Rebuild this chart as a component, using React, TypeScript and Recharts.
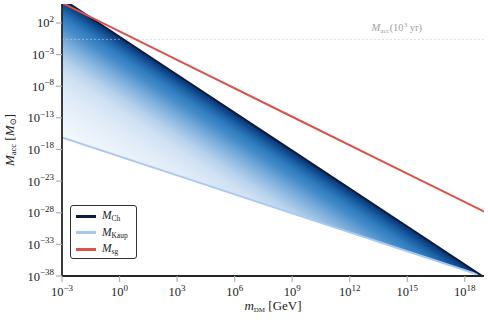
import React from "react";
import {
  ComposedChart,
  Area,
  Line,
  XAxis,
  YAxis,
  ReferenceLine,
  Label,
} from "recharts";

// dark-matter mass [GeV] and the three mass limits [M_sun]
const M_DM = [1e-3, 1e3, 1e9, 1e15, 8.1e18, 1e19];
const M_CH = [6.6e5, 6.6e-7, 6.6e-19, 6.6e-31, 1e-38, null];
const M_KAUP = [8e-17, 8e-23, 8e-29, 8e-35, 1e-38, null];
const M_SG = [1.5e5, 1.5e-4, 1.5e-13, 1.5e-22, 2.1e-28, 1.5e-28];
const M_ACC_1KYR = 0.25;

const X_TICKS = [1e-3, 1e0, 1e3, 1e6, 1e9, 1e12, 1e15, 1e18];
const Y_TICKS = [1e-38, 1e-33, 1e-28, 1e-23, 1e-18, 1e-13, 1e-8, 1e-3, 1e2];
const X_DOMAIN = [1e-3, 1e19];
const Y_DOMAIN = [1e-38, 1e5];

const data = M_DM.map((m, i) => ({
  m,
  ch: M_CH[i],
  kaup: M_KAUP[i],
  sg: M_SG[i],
}));

const W = 488;
const H = 320;
const MARGIN = { top: 4, right: 4, bottom: 4, left: 0 };
const Y_AXIS_W = 62;
const X_AXIS_H = 40;

const FONT = "'Liberation Serif', 'DejaVu Serif', serif";
const C_CH = "#0a1a40";
const C_KAUP = "#a9c8f2";
const C_SG = "#d9534a";

// plot box, used to orient the fill gradient along the Chandrasekhar line
const PL = MARGIN.left + Y_AXIS_W;
const PT = MARGIN.top;
const PW = W - PL - MARGIN.right;
const PH = H - PT - MARGIN.bottom - X_AXIS_H;
const lx = (v: number) => Math.log10(v);
const pxPerDec = PW / (lx(X_DOMAIN[1]) - lx(X_DOMAIN[0]));
const pyPerDec = PH / (lx(Y_DOMAIN[1]) - lx(Y_DOMAIN[0]));
const toPx = (v: number) => PL + (lx(v) - lx(X_DOMAIN[0])) * pxPerDec;
const toPy = (v: number) => PT + (lx(Y_DOMAIN[1]) - lx(v)) * pyPerDec;
const slope = 2 * pyPerDec / pxPerDec;
const g0x = toPx(M_DM[2]);
const g0y = toPy(M_CH[2] as number);
const gLen = (21 * pyPerDec) / (1 + slope * slope);
const g1x = g0x - slope * gLen;
const g1y = g0y + gLen;

const exp = (v: number) => {
  const e = Math.round(Math.log10(v));
  return e < 0 ? "\u2212" + Math.abs(e) : String(e);
};

function XTick({ x, y, payload }: any) {
  return (
    <text x={x} y={y + 12} textAnchor="middle" fontFamily={FONT} fontSize={12.5} fill="#222">
      10
      <tspan dy={-5.5} fontSize={9}>{exp(payload.value)}</tspan>
    </text>
  );
}

function YTick({ x, y, payload }: any) {
  return (
    <text x={x} y={y + 4.5} textAnchor="end" fontFamily={FONT} fontSize={12.5} fill="#222">
      10
      <tspan dy={-5.5} fontSize={9}>{exp(payload.value)}</tspan>
    </text>
  );
}

function XLabel({ viewBox }: any) {
  const cx = viewBox.x + viewBox.width / 2;
  return (
    <text x={cx} y={viewBox.y + 34} textAnchor="middle" fontFamily={FONT} fontSize={13} fill="#222">
      <tspan fontStyle="italic">m</tspan>
      <tspan dy={2} fontSize={7}>DM</tspan>
      <tspan dy={-2}>{"  [GeV]"}</tspan>
    </text>
  );
}

function YLabel({ viewBox }: any) {
  const cy = viewBox.y + viewBox.height / 2;
  const cx = 14;
  return (
    <text
      x={cx}
      y={cy}
      textAnchor="middle"
      transform={`rotate(-90 ${cx} ${cy})`}
      fontFamily={FONT}
      fontSize={13}
      fill="#222"
    >
      <tspan fontStyle="italic">M</tspan>
      <tspan dy={2} fontSize={8.5}>acc</tspan>
      <tspan dy={-2}>{" ["}</tspan>
      <tspan fontStyle="italic">M</tspan>
      <tspan dy={2} fontSize={8.5}>{"\u2299"}</tspan>
      <tspan dy={-2}>]</tspan>
    </text>
  );
}

function AccLabel({ viewBox }: any) {
  const xr = viewBox.x + viewBox.width - 62;
  return (
    <text x={xr} y={viewBox.y - 8} textAnchor="end" fontFamily={FONT} fontSize={10.5} fill="#a0a0a0">
      <tspan fontStyle="italic">M</tspan>
      <tspan dy={2} fontSize={7}>acc</tspan>
      <tspan dy={-2}>(10</tspan>
      <tspan dy={-4} fontSize={7}>3</tspan>
      <tspan dy={4}>{" yr)"}</tspan>
    </text>
  );
}

const LEGEND = [
  { name: "Ch", color: C_CH },
  { name: "Kaup", color: C_KAUP },
  { name: "sg", color: C_SG },
];

function LegendBox() {
  return (
    <div
      style={{
        position: "absolute",
        left: 70,
        top: 205,
        width: 67,
        height: 54,
        border: "1px solid #333",
        borderRadius: 3,
        background: "#fff",
        fontFamily: FONT,
        fontSize: 11.5,
        color: "#222",
        boxSizing: "border-box",
        paddingTop: 2,
      }}
    >
      {LEGEND.map((d) => (
        <div key={d.name} style={{ display: "flex", alignItems: "center", height: 16.5 }}>
          <div style={{ width: 20, height: 3, background: d.color, marginLeft: 5, marginRight: 6 }} />
          <span>
            <i>M</i>
            <sub style={{ fontSize: 7.5, verticalAlign: "-2px" }}>{d.name}</sub>
          </span>
        </div>
      ))}
    </div>
  );
}

export default function App() {
  return (
    <div style={{ position: "absolute", left: 0, top: 0, width: W, height: H, background: "#fff" }}>
      <ComposedChart width={W} height={H} data={data} margin={MARGIN}>
        <defs>
          <linearGradient id="fillBand" gradientUnits="userSpaceOnUse" x1={g0x} y1={g0y} x2={g1x} y2={g1y}>
            <stop offset="0" stopColor="#08306b" />
            <stop offset="0.03" stopColor="#0d4385" />
            <stop offset="0.08" stopColor="#1c62a6" />
            <stop offset="0.14" stopColor="#317dbf" />
            <stop offset="0.2" stopColor="#458bc8" />
            <stop offset="0.3" stopColor="#76aad8" />
            <stop offset="0.37" stopColor="#94bce1" />
            <stop offset="0.46" stopColor="#b8d2ed" />
            <stop offset="0.56" stopColor="#d0e1f3" />
            <stop offset="0.72" stopColor="#e1ecf8" />
            <stop offset="0.95" stopColor="#eff5fc" />
            <stop offset="1" stopColor="#f3f8fd" />
          </linearGradient>
        </defs>
        <XAxis
          dataKey="m"
          type="number"
          scale="log"
          domain={X_DOMAIN}
          allowDataOverflow
          ticks={X_TICKS}
          tick={<XTick />}
          tickSize={6}
          height={X_AXIS_H}
          axisLine={{ stroke: "#262626", strokeWidth: 1.8 }}
          tickLine={{ stroke: "#b0b0b0", strokeWidth: 1.2 }}
          interval={0}
        >
          <Label content={<XLabel />} />
        </XAxis>
        <XAxis
          xAxisId="top"
          orientation="top"
          dataKey="m"
          type="number"
          scale="log"
          domain={X_DOMAIN}
          allowDataOverflow
          height={0}
          tick={false}
          tickLine={false}
          axisLine={{ stroke: "#262626", strokeWidth: 1.8 }}
        />
        <YAxis
          type="number"
          scale="log"
          domain={Y_DOMAIN}
          allowDataOverflow
          ticks={Y_TICKS}
          tick={<YTick />}
          tickSize={6}
          width={Y_AXIS_W}
          axisLine={{ stroke: "#262626", strokeWidth: 1.8 }}
          tickLine={{ stroke: "#b0b0b0", strokeWidth: 1.2 }}
          interval={0}
        >
          <Label content={<YLabel />} />
        </YAxis>
        <YAxis
          yAxisId="right"
          orientation="right"
          type="number"
          scale="log"
          domain={Y_DOMAIN}
          allowDataOverflow
          width={0}
          tick={false}
          tickLine={false}
          axisLine={{ stroke: "#262626", strokeWidth: 1.8 }}
        />
        <ReferenceLine
          y={M_ACC_1KYR}
          stroke="#c8c8c8"
          strokeOpacity={0.6}
          strokeDasharray="2 2"
          strokeWidth={1}
          label={<AccLabel />}
        />
        <Area
          dataKey={(d: any) => (d.ch == null ? null : [d.kaup, d.ch])}
          type="linear"
          stroke="none"
          fill="url(#fillBand)"
          fillOpacity={1}
          isAnimationActive={false}
          connectNulls={false}
        />
        <Line dataKey="kaup" type="linear" stroke={C_KAUP} strokeWidth={2} dot={false} isAnimationActive={false} />
        <Line dataKey="ch" type="linear" stroke={C_CH} strokeWidth={2} dot={false} isAnimationActive={false} />
        <Line dataKey="sg" type="linear" stroke={C_SG} strokeWidth={2} dot={false} isAnimationActive={false} />
      </ComposedChart>
      <LegendBox />
    </div>
  );
}
